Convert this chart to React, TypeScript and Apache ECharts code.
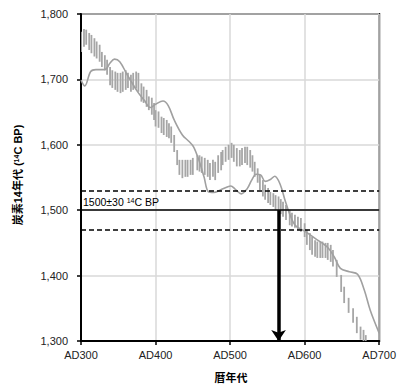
import React, { useEffect, useRef } from "react";
import * as echarts from "echarts";

// Measured data (error bars): calendar year, low / high 14C BP
const barYears = [300, 304, 307, 311, 314, 318, 321, 325, 328, 332, 335, 339, 342, 346, 349, 353, 356, 360, 363, 367, 370, 374, 377, 381, 384, 388, 391, 395, 398,
  400, 404, 408, 411, 415, 418, 421, 425, 429, 432, 436, 440, 443, 447, 450, 456, 459, 462, 466, 470, 473, 477, 480, 484, 488,
  490, 494, 498, 502, 505, 509, 513, 516, 520, 523, 527, 530, 533, 537, 540, 544, 547, 551, 554, 558, 561, 565, 568, 571, 575, 580, 583, 587, 591, 595,
  600, 603, 607, 610, 614, 617, 621, 624, 628, 631, 635, 638, 643, 649, 653, 659, 665, 670, 675, 679, 682];
const barHigh = [1773, 1777, 1776, 1771, 1768, 1763, 1758, 1753, 1742, 1737, 1730, 1719, 1714, 1712, 1710, 1710, 1712, 1714, 1710, 1707, 1710, 1712, 1710, 1694, 1689, 1684, 1674, 1672, 1664,
  1653, 1651, 1643, 1641, 1638, 1633, 1628, 1615, 1592, 1577, 1577, 1577, 1577, 1577, 1580, 1584, 1584, 1582, 1580, 1577, 1572, 1577, 1574, 1584, 1589,
  1592, 1597, 1600, 1603, 1600, 1595, 1592, 1595, 1597, 1597, 1592, 1584, 1574, 1564, 1554, 1546, 1539, 1534, 1528, 1526, 1523, 1521, 1517, 1513, 1508, 1500, 1496, 1493, 1490, 1488,
  1480, 1470, 1465, 1459, 1454, 1452, 1452, 1452, 1450, 1450, 1447, 1439, 1424, 1401, 1383, 1366, 1350, 1337, 1322, 1317, 1309];
const barLow = [1742, 1750, 1753, 1745, 1740, 1735, 1732, 1727, 1719, 1714, 1707, 1691, 1687, 1684, 1681, 1679, 1681, 1684, 1687, 1681, 1684, 1686, 1681, 1666, 1664, 1658, 1653, 1646, 1638,
  1628, 1626, 1618, 1615, 1612, 1610, 1603, 1589, 1569, 1554, 1549, 1551, 1551, 1554, 1554, 1561, 1559, 1557, 1554, 1551, 1546, 1551, 1546, 1557, 1561,
  1569, 1574, 1577, 1580, 1574, 1567, 1567, 1569, 1572, 1569, 1565, 1559, 1551, 1542, 1531, 1521, 1516, 1511, 1508, 1505, 1500, 1498, 1494, 1490, 1485, 1477, 1475, 1473, 1470, 1467,
  1459, 1447, 1439, 1432, 1429, 1427, 1427, 1427, 1427, 1424, 1421, 1414, 1398, 1375, 1358, 1343, 1328, 1312, 1302, 1295, 1290];

// Calibration curve
const curveYears = [300, 305, 313, 320, 332, 339, 345, 352, 362, 376, 385, 393, 400, 410, 417, 425, 436, 445, 451, 458, 465, 471, 478, 487, 497, 501, 507, 515, 523, 529, 535, 541, 547, 554, 560, 567, 574, 580, 588, 600, 614, 631, 640, 648, 660, 671, 680, 688, 700];
const curveValues = [1699, 1690, 1712, 1715, 1715, 1725, 1731, 1727, 1707, 1681, 1668, 1657, 1662, 1667, 1660, 1638, 1615, 1605, 1597, 1577, 1551, 1528, 1527, 1531, 1536, 1537, 1532, 1525, 1533, 1546, 1555, 1554, 1544, 1547, 1552, 1540, 1514, 1494, 1476, 1468, 1457, 1443, 1428, 1411, 1406, 1402, 1378, 1347, 1312];

// Sample result
const sampleAge = 1500;
const sampleError = 30;
const calibratedYear = 565;

const xMin = 300, xMax = 700, xStep = 100;
const yMin = 1300, yMax = 1800, yStep = 100;

const FONT = "'Liberation Sans', 'Noto Sans CJK JP', sans-serif";

export default function App() {
  const ref = useRef<HTMLDivElement>(null);
  useEffect(() => {
    document.body.style.margin = "0";
    const chart = echarts.init(ref.current!, null, { renderer: "svg" });
    const bars = barYears.map((y, i) => [y, barLow[i], barHigh[i]]);
    const curve = curveYears.map((y, i) => [y, curveValues[i]]);
    chart.setOption({
      animation: false,
      backgroundColor: "#fff",
      grid: { left: 81, right: 17, top: 14, bottom: 46, show: true, borderColor: "#000", borderWidth: 2, backgroundColor: "transparent" },
      xAxis: {
        type: "value", min: xMin, max: xMax, interval: xStep,
        axisLine: { show: true, lineStyle: { color: "#000", width: 2 } },
        axisTick: { show: true, length: 4, lineStyle: { color: "#000", width: 1.5 } },
        axisLabel: { formatter: (v: number) => "AD" + v, color: "#222", fontSize: 11, fontFamily: FONT, margin: 8 },
        splitLine: { show: true, lineStyle: { color: "#d9d9d9", width: 1.5 } },
      },
      yAxis: {
        type: "value", min: yMin, max: yMax, interval: yStep,
        axisLine: { show: true, lineStyle: { color: "#000", width: 2 } },
        axisTick: { show: true, length: 4, lineStyle: { color: "#000", width: 1.5 } },
        axisLabel: { formatter: (v: number) => v.toLocaleString("en-US"), color: "#222", fontSize: 11, fontFamily: FONT, margin: 13 },
        splitLine: { show: true, lineStyle: { color: "#d9d9d9", width: 1.5 } },
      },
      series: [
        {
          type: "custom",
          data: bars,
          encode: { x: 0, y: [1, 2] },
          renderItem: (params: any, api: any) => {
            const top = api.coord([api.value(0), api.value(2)]);
            const bot = api.coord([api.value(0), api.value(1)]);
            const cs = params.coordSys;
            const shape = echarts.graphic.clipRectByRect(
              { x: top[0] - 0.9, y: top[1], width: 1.8, height: bot[1] - top[1] },
              { x: cs.x, y: cs.y, width: cs.width, height: cs.height }
            );
            if (!shape) return null;
            return { type: "rect", shape, style: { fill: "#a6a6a6" } };
          },
          z: 2,
        },
        {
          type: "line",
          data: curve,
          smooth: 0.35,
          showSymbol: false,
          lineStyle: { color: "#a0a0a0", width: 1.6 },
          z: 3,
          markLine: {
            silent: true,
            symbol: ["none", "none"],
            animation: false,
            data: [
              {
                yAxis: sampleAge,
                lineStyle: { color: "#000", width: 1.6, type: "solid" },
                label: {
                  show: true,
                  position: "insideStartTop",
                  distance: [2, 3],
                  formatter: () => `${sampleAge}±${sampleError} {sup|14}C BP`,
                  color: "#000",
                  fontSize: 10.5,
                  fontFamily: FONT,
                  rich: { sup: { fontSize: 7, verticalAlign: "top", lineHeight: 8, color: "#000", fontFamily: FONT } },
                },
              },
              { yAxis: sampleAge + sampleError, lineStyle: { color: "#000", width: 1.5, type: [5, 3] }, label: { show: false } },
              { yAxis: sampleAge - sampleError, lineStyle: { color: "#000", width: 1.5, type: [5, 3] }, label: { show: false } },
              [
                { coord: [calibratedYear, sampleAge], symbol: "none", lineStyle: { color: "#000", width: 3.5, type: "solid" }, label: { show: false } },
                { coord: [calibratedYear, yMin], symbol: "arrow", symbolSize: [11, 11] },
              ],
            ],
          },
        },
      ],
      graphic: [
        {
          type: "text",
          x: 18,
          y: 175,
          rotation: Math.PI / 2,
          style: {
            text: "炭素14年代 ({sup|14}C BP)",
            fontSize: 11,
            fontWeight: "bold",
            fontFamily: FONT,
            fill: "#000",
            align: "center",
            verticalAlign: "middle",
            rich: { sup: { fontSize: 7, fontWeight: "bold", verticalAlign: "top", lineHeight: 8, fontFamily: FONT } },
          },
        },
        {
          type: "text",
          x: 231,
          y: 378,
          style: { text: "暦年代", fontSize: 11, fontWeight: "bold", fontFamily: FONT, fill: "#000", align: "center", verticalAlign: "middle" },
        },
      ],
    });
    return () => chart.dispose();
  }, []);
  return <div ref={ref} style={{ width: 399, height: 387, position: "absolute", left: 0, top: 0 }} />;
}
